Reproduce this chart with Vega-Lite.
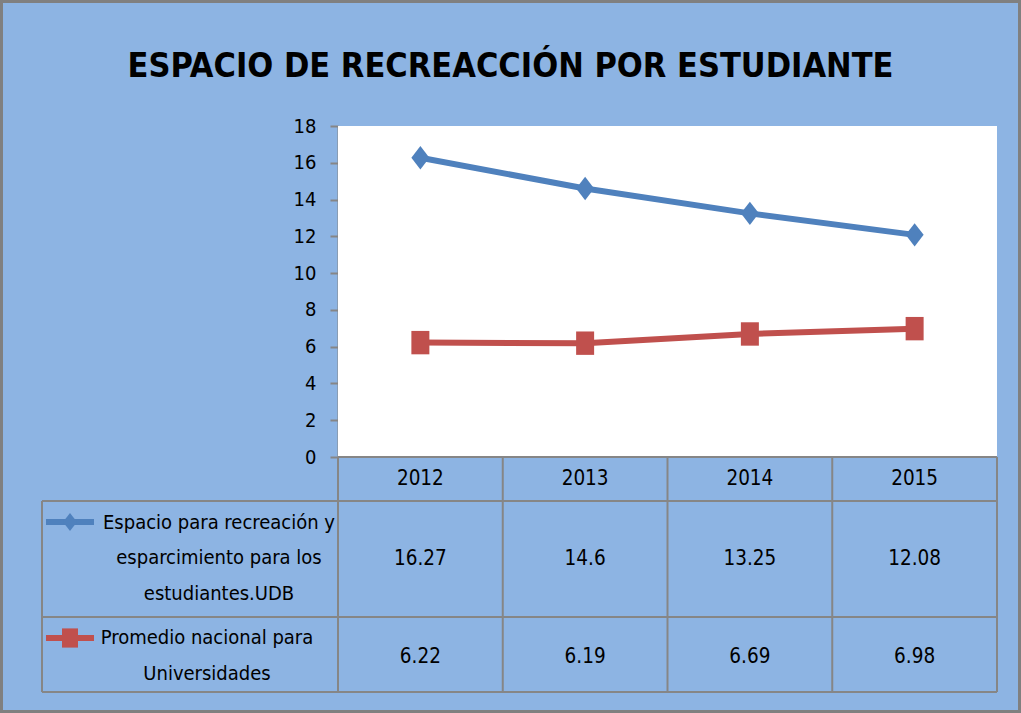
{
  "$schema": "https://vega.github.io/schema/vega-lite/v6.json",
  "width": 1021,
  "height": 713,
  "autosize": "none",
  "padding": 0,
  "background": "#8DB4E3",
  "config": {
    "view": {"stroke": "#808080", "strokeWidth": 6},
    "font": "'DejaVu Sans Condensed', Lato, sans-serif",
    "text": {"font": "'DejaVu Sans Condensed', Lato, sans-serif"}
  },
  "title": {
    "text": "ESPACIO DE RECREACCIÓN POR ESTUDIANTE",
    "font": "'DejaVu Sans Condensed', Lato, sans-serif",
    "fontWeight": "bold",
    "fontSize": 34,
    "color": "#000000",
    "anchor": "middle",
    "offset": -84
  },
  "datasets": {
    "t": [
      {"year": 2012, "series": "Espacio para recreación y esparcimiento para los estudiantes.UDB", "value": 16.27},
      {"year": 2013, "series": "Espacio para recreación y esparcimiento para los estudiantes.UDB", "value": 14.6},
      {"year": 2014, "series": "Espacio para recreación y esparcimiento para los estudiantes.UDB", "value": 13.25},
      {"year": 2015, "series": "Espacio para recreación y esparcimiento para los estudiantes.UDB", "value": 12.08},
      {"year": 2012, "series": "Promedio nacional para Universidades", "value": 6.22},
      {"year": 2013, "series": "Promedio nacional para Universidades", "value": 6.19},
      {"year": 2014, "series": "Promedio nacional para Universidades", "value": 6.69},
      {"year": 2015, "series": "Promedio nacional para Universidades", "value": 6.98}
    ]
  },
  "layer": [
    {
      "data": {"values": [{}]},
      "mark": {"type": "rect", "fill": "#FFFFFF"},
      "encoding": {
        "x": {"datum": 2011.5, "type": "quantitative", "scale": {"domain": [2011.5, 2015.5], "range": [338, 997], "nice": false, "zero": false}, "axis": null},
        "x2": {"datum": 2015.5},
        "y": {"datum": 0, "type": "quantitative", "scale": {"domain": [0, 18], "range": [457, 126], "nice": false, "zero": false},
          "axis": {"orient": "left", "offset": -338, "values": [0, 2, 4, 6, 8, 10, 12, 14, 16, 18], "title": null, "grid": false,
            "domainColor": "#868686", "domainWidth": 2, "tickColor": "#868686", "tickWidth": 2, "tickSize": 8,
            "labelFont": "'DejaVu Sans Condensed', Lato, sans-serif", "labelFontSize": 20, "labelColor": "#000000", "labelPadding": 14}},
        "y2": {"datum": 18}
      }
    },
    {
      "data": {"values": [{}]},
      "mark": {"type": "rule", "color": "#868686", "strokeWidth": 2},
      "encoding": {"x": {"datum": 2011.5, "type": "quantitative"}, "x2": {"datum": 2015.5}, "y": {"datum": 0, "type": "quantitative"}}
    },
    {
      "data": {"values": [{}]},
      "mark": {"type": "rule", "color": "#868686", "strokeWidth": 2},
      "encoding": {"x": {"datum": 2009.7033, "type": "quantitative"}, "x2": {"datum": 2015.5}, "y": {"datum": -2.3927, "type": "quantitative"}}
    },
    {
      "data": {"values": [{}]},
      "mark": {"type": "rule", "color": "#868686", "strokeWidth": 2},
      "encoding": {"x": {"datum": 2009.7033, "type": "quantitative"}, "x2": {"datum": 2015.5}, "y": {"datum": -8.7009, "type": "quantitative"}}
    },
    {
      "data": {"values": [{}]},
      "mark": {"type": "rule", "color": "#868686", "strokeWidth": 2},
      "encoding": {"x": {"datum": 2009.7033, "type": "quantitative"}, "x2": {"datum": 2015.5}, "y": {"datum": -12.7795, "type": "quantitative"}}
    },
    {
      "data": {"values": [{}]},
      "mark": {"type": "rule", "color": "#868686", "strokeWidth": 2},
      "encoding": {"x": {"datum": 2009.7033, "type": "quantitative"}, "y": {"datum": -2.3927, "type": "quantitative"}, "y2": {"datum": -12.7795}}
    },
    {
      "data": {"values": [{}]},
      "mark": {"type": "rule", "color": "#868686", "strokeWidth": 2},
      "encoding": {"x": {"datum": 2011.5, "type": "quantitative"}, "y": {"datum": 0, "type": "quantitative"}, "y2": {"datum": -12.7795}}
    },
    {
      "data": {"values": [{}]},
      "mark": {"type": "rule", "color": "#868686", "strokeWidth": 2},
      "encoding": {"x": {"datum": 2012.5, "type": "quantitative"}, "y": {"datum": 0, "type": "quantitative"}, "y2": {"datum": -12.7795}}
    },
    {
      "data": {"values": [{}]},
      "mark": {"type": "rule", "color": "#868686", "strokeWidth": 2},
      "encoding": {"x": {"datum": 2013.5, "type": "quantitative"}, "y": {"datum": 0, "type": "quantitative"}, "y2": {"datum": -12.7795}}
    },
    {
      "data": {"values": [{}]},
      "mark": {"type": "rule", "color": "#868686", "strokeWidth": 2},
      "encoding": {"x": {"datum": 2014.5, "type": "quantitative"}, "y": {"datum": 0, "type": "quantitative"}, "y2": {"datum": -12.7795}}
    },
    {
      "data": {"values": [{}]},
      "mark": {"type": "rule", "color": "#868686", "strokeWidth": 2},
      "encoding": {"x": {"datum": 2015.5, "type": "quantitative"}, "y": {"datum": 0, "type": "quantitative"}, "y2": {"datum": -12.7795}}
    },
    {
      "data": {"name": "t"},
      "mark": {"type": "line", "strokeWidth": 6},
      "encoding": {
        "x": {"field": "year", "type": "quantitative"},
        "y": {"field": "value", "type": "quantitative"},
        "color": {"field": "series", "type": "nominal", "legend": null,
          "scale": {"domain": ["Espacio para recreación y esparcimiento para los estudiantes.UDB", "Promedio nacional para Universidades"], "range": ["#4F81BD", "#C0504D"]}}
      }
    },
    {
      "data": {"name": "t"},
      "mark": {"type": "point", "filled": true, "opacity": 1, "size": 324},
      "encoding": {
        "x": {"field": "year", "type": "quantitative"},
        "y": {"field": "value", "type": "quantitative"},
        "color": {"field": "series", "type": "nominal", "legend": null},
        "shape": {"field": "series", "type": "nominal", "legend": null,
          "scale": {"domain": ["Espacio para recreación y esparcimiento para los estudiantes.UDB", "Promedio nacional para Universidades"], "range": ["M0,-1.3L1,0L0,1.3L-1,0Z", "M-1,-1.3H1V1.3H-1Z"]}}
      }
    },
    {
      "data": {"name": "t"},
      "transform": [{"filter": "datum.series === 'Promedio nacional para Universidades'"}],
      "mark": {"type": "text", "fontSize": 20.5, "color": "#000000", "baseline": "middle", "align": "center"},
      "encoding": {"x": {"field": "year", "type": "quantitative"}, "y": {"datum": -1.1964, "type": "quantitative"}, "text": {"field": "year", "type": "nominal"}}
    },
    {
      "data": {"name": "t"},
      "transform": [{"filter": "datum.series !== 'Promedio nacional para Universidades'"}],
      "mark": {"type": "text", "fontSize": 20.5, "color": "#000000", "baseline": "middle", "align": "center"},
      "encoding": {"x": {"field": "year", "type": "quantitative"}, "y": {"datum": -5.5468, "type": "quantitative"}, "text": {"field": "value", "type": "nominal"}}
    },
    {
      "data": {"name": "t"},
      "transform": [{"filter": "datum.series === 'Promedio nacional para Universidades'"}],
      "mark": {"type": "text", "fontSize": 20.5, "color": "#000000", "baseline": "middle", "align": "center"},
      "encoding": {"x": {"field": "year", "type": "quantitative"}, "y": {"datum": -10.849, "type": "quantitative"}, "text": {"field": "value", "type": "nominal"}}
    },
    {
      "data": {"values": [{}]},
      "mark": {"type": "text", "fontSize": 20, "color": "#000000", "baseline": "middle", "align": "center", "lineHeight": 35.5,
        "text": ["Espacio para recreación y", "esparcimiento para los", "estudiantes.UDB"]},
      "encoding": {"x": {"datum": 2010.7777, "type": "quantitative"}, "y": {"datum": -3.589, "type": "quantitative"}}
    },
    {
      "data": {"values": [{}]},
      "mark": {"type": "text", "fontSize": 20, "color": "#000000", "baseline": "middle", "align": "center", "lineHeight": 35.5,
        "text": ["Promedio nacional para", "Universidades"]},
      "encoding": {"x": {"datum": 2010.7049, "type": "quantitative"}, "y": {"datum": -9.843, "type": "quantitative"}}
    },
    {
      "data": {"values": [{}]},
      "mark": {"type": "rule", "color": "#4F81BD", "strokeWidth": 6},
      "encoding": {"x": {"datum": 2009.7276, "type": "quantitative"}, "x2": {"datum": 2010.019}, "y": {"datum": -3.5347, "type": "quantitative"}}
    },
    {
      "data": {"values": [{}]},
      "mark": {"type": "point", "filled": true, "opacity": 1, "size": 196, "color": "#4F81BD", "shape": "M0,-1.3L1,0L0,1.3L-1,0Z"},
      "encoding": {"x": {"datum": 2009.8733, "type": "quantitative"}, "y": {"datum": -3.5347, "type": "quantitative"}}
    },
    {
      "data": {"values": [{}]},
      "mark": {"type": "rule", "color": "#C0504D", "strokeWidth": 6},
      "encoding": {"x": {"datum": 2009.7276, "type": "quantitative"}, "x2": {"datum": 2010.019}, "y": {"datum": -9.8429, "type": "quantitative"}}
    },
    {
      "data": {"values": [{}]},
      "mark": {"type": "point", "filled": true, "opacity": 1, "size": 256, "color": "#C0504D", "shape": "M-1,-1.2H1V1.2H-1Z"},
      "encoding": {"x": {"datum": 2009.8733, "type": "quantitative"}, "y": {"datum": -9.8429, "type": "quantitative"}}
    }
  ]
}
